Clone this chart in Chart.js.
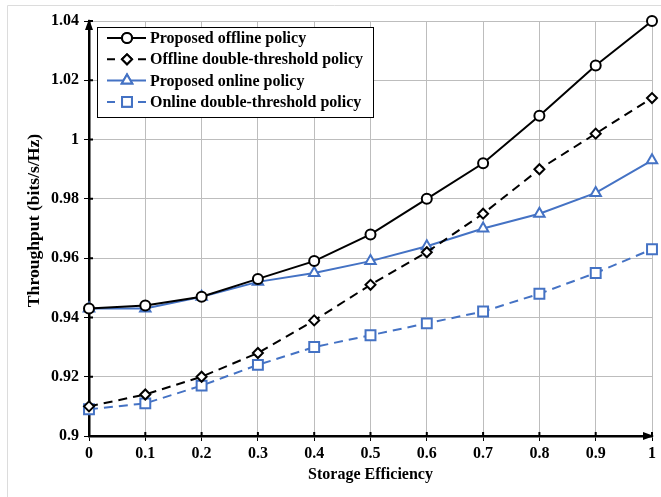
<!DOCTYPE html>
<html>
<head>
<meta charset="utf-8">
<script src="https://cdn.jsdelivr.net/npm/chart.js@4.4.0/dist/chart.umd.min.js"></script>
<style>
  html, body { margin: 0; padding: 0; background: #fff; }
  #wrap { position: relative; width: 661px; height: 497px; }
</style>
</head>
<body>
<div id="wrap"><canvas id="chart" width="661" height="497"></canvas></div>
<script>
// data
const efficiency = [0, 0.1, 0.2, 0.3, 0.4, 0.5, 0.6, 0.7, 0.8, 0.9, 1];
const offlineProposed = [0.943, 0.944, 0.947, 0.953, 0.959, 0.968, 0.980, 0.992, 1.008, 1.025, 1.040];
const offlineDouble = [0.910, 0.914, 0.920, 0.928, 0.939, 0.951, 0.962, 0.975, 0.990, 1.002, 1.014];
const onlineProposed = [0.943, 0.943, 0.947, 0.952, 0.955, 0.959, 0.964, 0.970, 0.975, 0.982, 0.993];
const onlineDouble = [0.909, 0.911, 0.917, 0.924, 0.930, 0.934, 0.938, 0.942, 0.948, 0.955, 0.963];
const seriesNames = ['Proposed offline policy', 'Offline double-threshold policy', 'Proposed online policy', 'Online double-threshold policy'];
const yTicks = [0.9, 0.92, 0.94, 0.96, 0.98, 1, 1.02, 1.04];
const xTicks = [0, 0.1, 0.2, 0.3, 0.4, 0.5, 0.6, 0.7, 0.8, 0.9, 1];
const yTitle = 'Throughput (bits/s/Hz)';

const BLUE = '#4472C4';
const FONT = 'Liberation Serif';

const pts = arr => arr.map((v, i) => ({ x: efficiency[i], y: v }));

function ds(label, data, color, style, dash, radius) {
    return {
        label: label,
        data: pts(data),
        borderColor: color,
        backgroundColor: '#fff',
        borderWidth: 2,
        borderDash: dash,
        pointStyle: style,
        pointRadius: radius,
        pointBorderWidth: 2,
        pointBackgroundColor: '#fff',
        pointBorderColor: color,
        tension: 0,
        clip: false
    };
}

// legend box, arrows, inner tick marks, outer frame, y title
const decor = {
    id: 'decor',
    afterDraw(chart) {
        const c = chart.ctx;
        const a = chart.chartArea;
        const xs = chart.scales.x, ys = chart.scales.y;
        c.save();
        // frame
        c.strokeStyle = '#dcdcdc';
        c.lineWidth = 1;
        c.beginPath();
        c.moveTo(7.5, 497); c.lineTo(7.5, 5.5); c.lineTo(661, 5.5);
        c.stroke();
        // inward tick marks
        c.strokeStyle = '#000';
        c.lineWidth = 2;
        c.beginPath();
        xTicks.forEach(t => { const px = xs.getPixelForValue(t); c.moveTo(px, a.bottom); c.lineTo(px, a.bottom - 4); });
        yTicks.forEach(t => { const py = ys.getPixelForValue(t); c.moveTo(a.left, py); c.lineTo(a.left + 4, py); });
        c.stroke();
        // arrows
        c.fillStyle = '#000';
        c.beginPath();
        c.moveTo(a.left, a.top - 2); c.lineTo(a.left - 4, a.top + 9); c.lineTo(a.left + 4, a.top + 9);
        c.closePath(); c.fill();
        c.beginPath();
        c.moveTo(a.right + 2, a.bottom); c.lineTo(a.right - 9, a.bottom - 4); c.lineTo(a.right - 9, a.bottom + 4);
        c.closePath(); c.fill();

        // y axis title (slightly stretched like the original)
        c.save();
        c.translate(35, (a.top + a.bottom) / 2 - 8);
        c.rotate(-Math.PI / 2);
        c.scale(1.1, 1);
        c.font = 'bold 16px "' + FONT + '"';
        c.textAlign = 'center';
        c.textBaseline = 'middle';
        c.fillStyle = '#000';
        c.fillText(yTitle, 0, 0);
        c.restore();

        // legend
        const bx = 97.5, by = 27.5, bw = 276, bh = 90;
        c.fillStyle = '#fff';
        c.fillRect(bx, by, bw, bh);
        c.strokeStyle = '#000';
        c.lineWidth = 1;
        c.strokeRect(bx, by, bw, bh);
        c.font = 'bold 16px "' + FONT + '"';
        c.textBaseline = 'middle';
        chart.data.datasets.forEach((d, i) => {
            const y = 38 + i * 21.3;
            const dashed = d.borderDash && d.borderDash.length;
            c.strokeStyle = d.borderColor;
            c.lineWidth = 2;
            c.setLineDash([]);
            c.beginPath();
            if (dashed) {
                c.moveTo(107, y); c.lineTo(115, y);
                c.moveTo(138, y); c.lineTo(146, y);
            } else {
                c.moveTo(107, y); c.lineTo(146, y);
            }
            c.stroke();
            Chart.helpers.drawPoint(c, {
                pointStyle: d.pointStyle, radius: d.pointRadius, borderWidth: 2, rotation: 0
            }, 127, y);
            c.fillStyle = '#fff';
            c.fill();
            c.stroke();
            c.fillStyle = '#000';
            c.fillText(d.label, 150, y + 1);
        });
        c.restore();
    }
};

new Chart(document.getElementById('chart').getContext('2d'), {
    type: 'line',
    data: {
        datasets: [
            ds(seriesNames[0], offlineProposed, '#000', 'circle', [], 5),
            ds(seriesNames[1], offlineDouble, '#000', 'rectRot', [9, 6], 5),
            ds(seriesNames[2], onlineProposed, BLUE, 'triangle', [], 6),
            ds(seriesNames[3], onlineDouble, BLUE, 'rect', [9, 6], 7)
        ]
    },
    options: {
        responsive: false,
        animation: false,
        layout: { padding: { left: 0, top: 21, right: 6, bottom: 0 } },
        plugins: { legend: { display: false }, tooltip: { enabled: false } },
        scales: {
            x: {
                type: 'linear',
                min: 0, max: 1,
                afterBuildTicks: s => { s.ticks = xTicks.map(v => ({ value: v })); },
                afterFit: s => { s.height = 61; },
                grid: { color: '#bdbdbd', tickColor: '#000', tickLength: 5, lineWidth: 1 },
                border: { color: '#000', width: 2.5 },
                ticks: {
                    color: '#000', padding: 3, maxRotation: 0,
                    font: { family: FONT, size: 16, weight: 'bold' },
                    callback: v => String(Number(v.toFixed(1)))
                },
                title: {
                    display: true, text: 'Storage Efficiency', color: '#000',
                    font: { family: FONT, size: 16, weight: 'bold' },
                    padding: { top: 0, bottom: 13 }
                }
            },
            y: {
                min: 0.9, max: 1.04,
                afterBuildTicks: s => { s.ticks = yTicks.map(v => ({ value: v })); },
                afterFit: s => { s.width = 89; },
                grid: { color: '#bdbdbd', tickColor: '#000', tickLength: 5, lineWidth: 1 },
                border: { color: '#000', width: 2.5 },
                ticks: {
                    color: '#000', padding: 5,
                    font: { family: FONT, size: 16, weight: 'bold' },
                    callback: v => String(Number(v.toFixed(2)))
                },
                title: { display: false }
            }
        }
    },
    plugins: [decor]
});
</script>
</body>
</html>
